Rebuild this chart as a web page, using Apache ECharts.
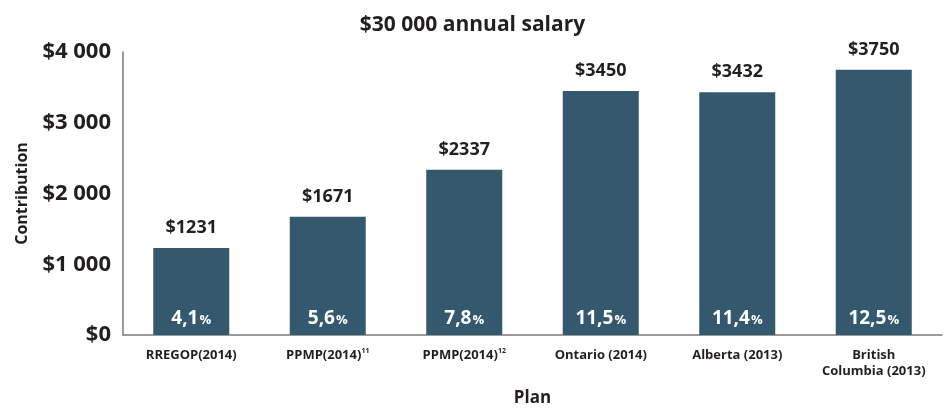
<!DOCTYPE html>
<html>
<head>
<meta charset="utf-8">
<script src="https://cdn.jsdelivr.net/npm/echarts@6/dist/echarts.min.js"></script>
<style>
  html, body { margin: 0; padding: 0; background: #fff; }
  #chart { width: 945px; height: 412px; }
</style>
</head>
<body>
<div id="chart"></div>
<script>
const plans = ['RREGOP(2014)', 'PPMP(2014)|11', 'PPMP(2014)|12', 'Ontario (2014)', 'Alberta (2013)', 'British\nColumbia (2013)']
const contributions = [1231, 1671, 2337, 3450, 3432, 3750]
const rates = ['4,1', '5,6', '7,8', '11,5', '11,4', '12,5']
const yTicks = [0, 1000, 2000, 3000, 4000]

const font = '"Open Sans", sans-serif'
const ink = '#231f20'
const barColor = '#34586d'

const chart = echarts.init(document.getElementById('chart'))

const fmtMoney = v => {
  const s = String(v)
  return '$' + (v >= 1000 ? s.slice(0, -3) + ' ' + s.slice(-3) : s)
}

chart.setOption({
  animation: false,
  textStyle: { fontFamily: font },
  title: {
    text: '$30 000 annual salary',
    left: 'center',
    top: 10,
    textStyle: { fontFamily: font, fontSize: 21, fontWeight: 'bold', color: ink }
  },
  grid: { left: 123, right: 3, top: 52, bottom: 75 },
  xAxis: {
    type: 'category',
    data: plans,
    name: 'Plan',
    nameLocation: 'middle',
    nameGap: 55,
    nameTextStyle: { fontFamily: font, fontSize: 17, fontWeight: 'bold', color: ink },
    axisLine: { lineStyle: { color: '#7a7a7a', width: 1.5 } },
    axisTick: { show: false },
    axisLabel: {
      interval: 0,
      margin: 12,
      color: ink,
      fontFamily: font,
      fontSize: 13,
      fontWeight: 'bold',
      lineHeight: 16,
      formatter: v => {
        const parts = v.split('|')
        return parts.length > 1 ? parts[0] + '{sup|' + parts[1] + '}' : v
      },
      rich: {
        sup: { fontSize: 7, fontWeight: 'bold', color: ink, verticalAlign: 'top', lineHeight: 16, fontFamily: font, padding: [0, 0, 6, 0] }
      }
    }
  },
  yAxis: {
    type: 'value',
    min: 0,
    max: yTicks[yTicks.length - 1],
    interval: 1000,
    name: 'Contribution',
    nameLocation: 'middle',
    nameGap: 93,
    nameTextStyle: { fontFamily: font, fontSize: 16, fontWeight: 'bold', color: ink },
    axisLine: { show: true, lineStyle: { color: '#7a7a7a', width: 1.5 } },
    axisTick: { show: false },
    splitLine: { show: false },
    axisLabel: {
      margin: 12,
      color: ink,
      fontFamily: font,
      fontSize: 22,
      fontWeight: 'bold',
      formatter: v => fmtMoney(v)
    }
  },
  series: [
    {
      type: 'bar',
      data: contributions,
      barWidth: 76,
      itemStyle: { color: barColor },
      label: {
        show: true,
        position: 'top',
        distance: 11,
        color: ink,
        fontFamily: font,
        fontSize: 18,
        fontWeight: 'bold',
        formatter: p => '$' + p.value
      }
    },
    {
      type: 'bar',
      data: contributions,
      barWidth: 76,
      barGap: '-100%',
      itemStyle: { color: 'rgba(0,0,0,0)' },
      silent: true,
      label: {
        show: true,
        position: 'insideBottom',
        distance: 7,
        formatter: p => '{n|' + rates[p.dataIndex] + '}{p|%}',
        rich: {
          n: { color: '#fff', fontFamily: font, fontSize: 19, fontWeight: 'bold' },
          p: { color: '#fff', fontFamily: font, fontSize: 13, fontWeight: 'bold', padding: [3, 0, 0, 1] }
        }
      }
    }
  ]
})
</script>
</body>
</html>
